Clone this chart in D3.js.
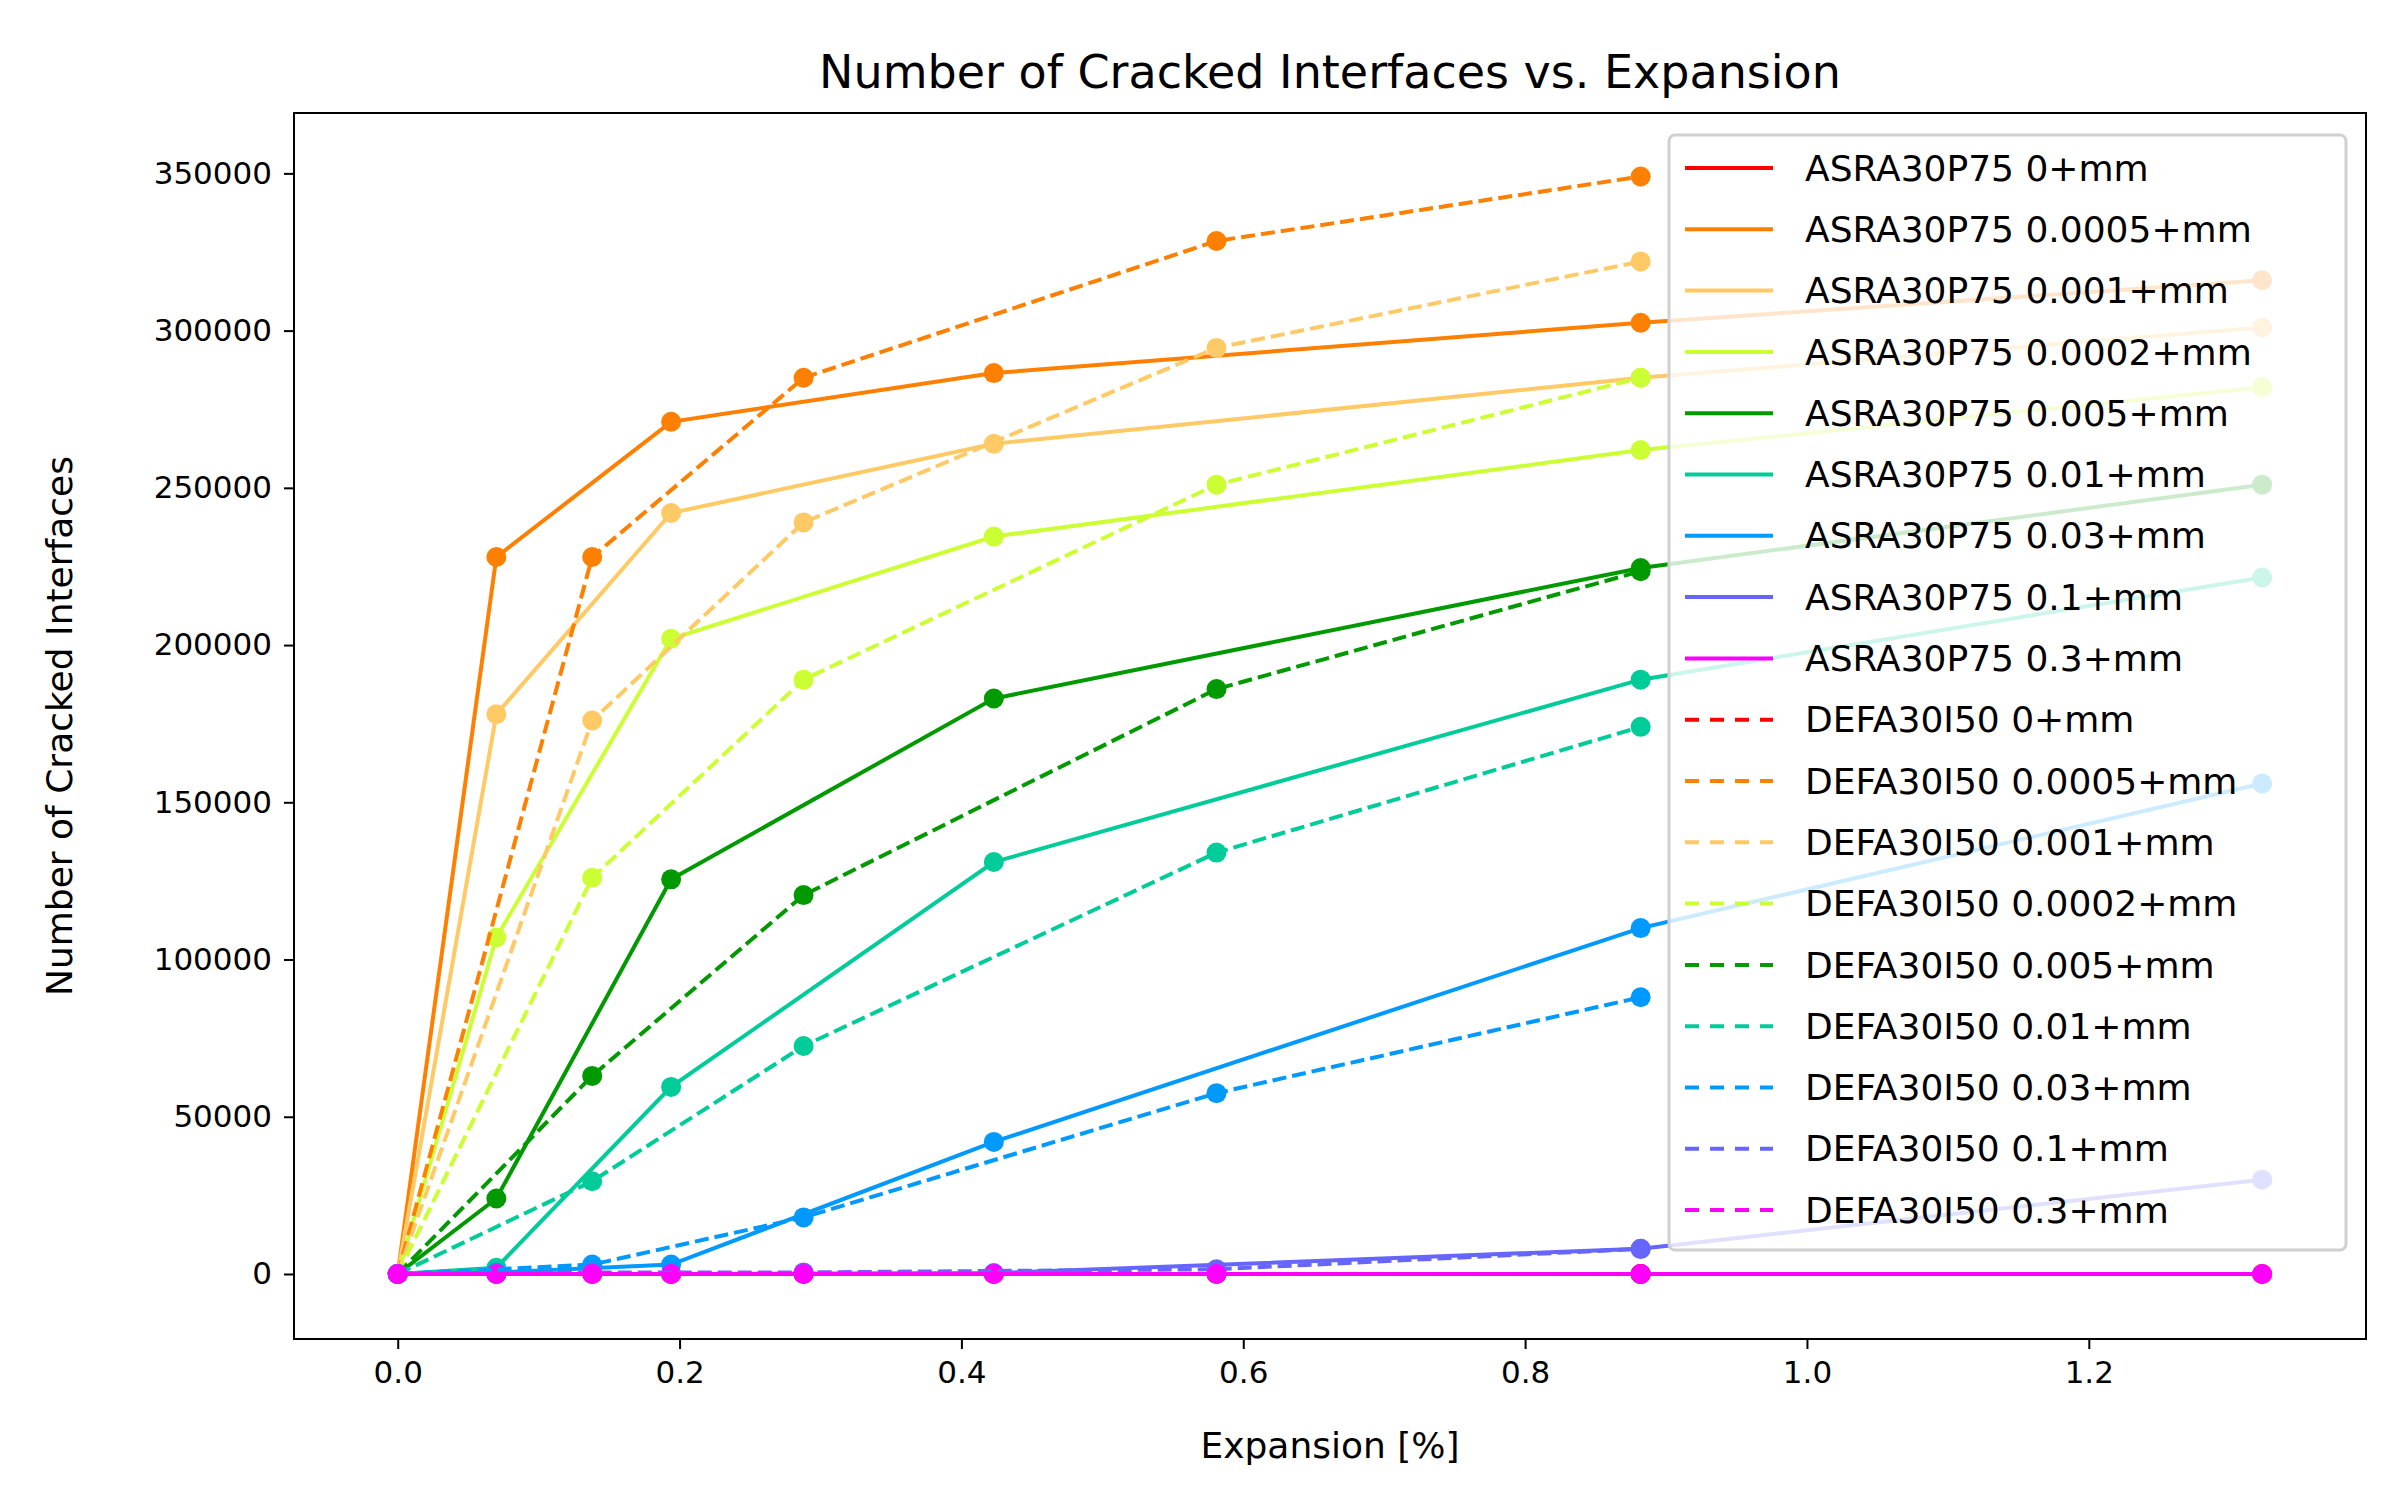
<!DOCTYPE html>
<html>
<head>
<meta charset="utf-8">
<script src="https://d3js.org/d3.v7.min.js"></script>
<style>
  body { margin: 0; background: #fff; font-family: "DejaVu Sans", sans-serif; }
</style>
</head>
<body>
<div id="chart"></div>
<script>
// x positions of the measurements
var xAsra = [0, 0.070, 0.194, 0.423, 0.882, 1.323];
var xDefa = [0, 0.138, 0.288, 0.581, 0.882];

var thresholds = ["0", "0.0005", "0.001", "0.0002", "0.005", "0.01", "0.03", "0.1", "0.3"];
var colors = ["#ff0000", "#ff7f00", "#ffc966", "#ccff33", "#009900", "#00cc99", "#0099ff", "#6666ff", "#ff00ff"];

var asraValues = [
  [0, 0, 0, 0, 0, 0],
  [0, 228000, 271000, 286500, 302500, 316000],
  [0, 178000, 242000, 264000, 285000, 301000],
  [0, 107000, 202000, 234500, 262000, 282000],
  [0, 24000, 125500, 183000, 224500, 251000],
  [0, 2000, 59500, 131000, 189000, 221500],
  [0, 500, 3000, 42000, 110000, 156000],
  [0, 0, 0, 300, 8000, 30000],
  [0, 0, 0, 0, 0, 0]
];
var defaValues = [
  [0, 0, 0, 0, 0],
  [0, 228000, 285000, 328500, 349000],
  [0, 176000, 239000, 294500, 322000],
  [0, 126000, 189000, 251000, 285000],
  [0, 63000, 120500, 186000, 223500],
  [0, 29500, 72500, 134000, 174000],
  [0, 3000, 18000, 57500, 88000],
  [0, 500, 500, 1500, 8000],
  [0, 0, 0, 0, 0]
];
var yTicks = [0, 50000, 100000, 150000, 200000, 250000, 300000, 350000];
var xTicks = [0, 0.2, 0.4, 0.6, 0.8, 1.0, 1.2];

var W = 2400, H = 1500;
var margin = {top: 113, right: 34, bottom: 161, left: 294};
var width = W - margin.left - margin.right,
    height = H - margin.top - margin.bottom;

var x = d3.scaleLinear().domain([-0.0736, 1.3967]).range([0, width]);
var y = d3.scaleLinear().domain([-20675, 369200]).range([height, 0]);

var svg = d3.select("#chart").append("svg")
  .attr("width", W).attr("height", H);
var chart = svg.append("g")
  .attr("transform", "translate(" + margin.left + "," + margin.top + ")");

// series: all ASRA solid first, then DEFA dashed
var series = [];
thresholds.forEach(function(t, i) {
  series.push({name: "ASRA30P75 " + t + "+mm", color: colors[i], dash: null,
    pts: xAsra.map(function(xv, j) { return [xv, asraValues[i][j]]; })});
});
thresholds.forEach(function(t, i) {
  series.push({name: "DEFA30I50 " + t + "+mm", color: colors[i], dash: "14,6",
    pts: xDefa.map(function(xv, j) { return [xv, defaValues[i][j]]; })});
});

var line = d3.line().x(function(d) { return x(d[0]); }).y(function(d) { return y(d[1]); });

series.forEach(function(s) {
  var g = chart.append("g");
  g.append("path").datum(s.pts)
    .attr("d", line)
    .attr("fill", "none")
    .attr("stroke", s.color)
    .attr("stroke-width", 4)
    .attr("stroke-dasharray", s.dash);
  g.selectAll("circle").data(s.pts).enter().append("circle")
    .attr("cx", function(d) { return x(d[0]); })
    .attr("cy", function(d) { return y(d[1]); })
    .attr("r", 10)
    .attr("fill", s.color);
});

// axes
var xAxis = chart.append("g").attr("transform", "translate(0," + height + ")")
  .call(d3.axisBottom(x).tickValues(xTicks).tickFormat(d3.format(".1f")).tickSize(10).tickPadding(12));
var yAxis = chart.append("g")
  .call(d3.axisLeft(y).tickValues(yTicks).tickFormat(d3.format("d")).tickSize(10).tickPadding(12));
[xAxis, yAxis].forEach(function(a) {
  a.selectAll("text").attr("font-size", 31).attr("font-family", "DejaVu Sans").attr("fill", "#000");
  a.selectAll("line").attr("stroke-width", 2);
  a.select(".domain").remove();
});
chart.append("rect").attr("width", width).attr("height", height)
  .attr("fill", "none").attr("stroke", "#000").attr("stroke-width", 2);

// titles
svg.append("text").attr("x", margin.left + width / 2).attr("y", 88)
  .attr("text-anchor", "middle").attr("font-size", 46).text("Number of Cracked Interfaces vs. Expansion");
svg.append("text").attr("x", margin.left + width / 2).attr("y", 1458)
  .attr("text-anchor", "middle").attr("font-size", 36).text("Expansion [%]");
svg.append("text").attr("transform", "translate(72," + (margin.top + height / 2) + ") rotate(-90)")
  .attr("text-anchor", "middle").attr("font-size", 36).text("Number of Cracked Interfaces");

// legend
var lx = 1669 - margin.left, ly = 135 - margin.top, rowH = 61.3;
chart.append("rect").attr("x", lx).attr("y", ly).attr("width", 677).attr("height", 1115)
  .attr("rx", 6).attr("fill", "#fff").attr("fill-opacity", 0.8)
  .attr("stroke", "#d0d0d0").attr("stroke-width", 3);
var leg = chart.append("g").selectAll("g").data(series).enter().append("g")
  .attr("transform", function(d, i) { return "translate(" + lx + "," + (ly + 33 + i * rowH) + ")"; });
leg.append("line").attr("x1", 16).attr("x2", 104)
  .attr("stroke", function(d) { return d.color; }).attr("stroke-width", 4)
  .attr("stroke-dasharray", function(d) { return d.dash ? "14,11" : null; });
leg.append("text").attr("x", 136).attr("dy", "0.35em").attr("font-size", 36)
  .text(function(d) { return d.name; });
</script>
</body>
</html>
